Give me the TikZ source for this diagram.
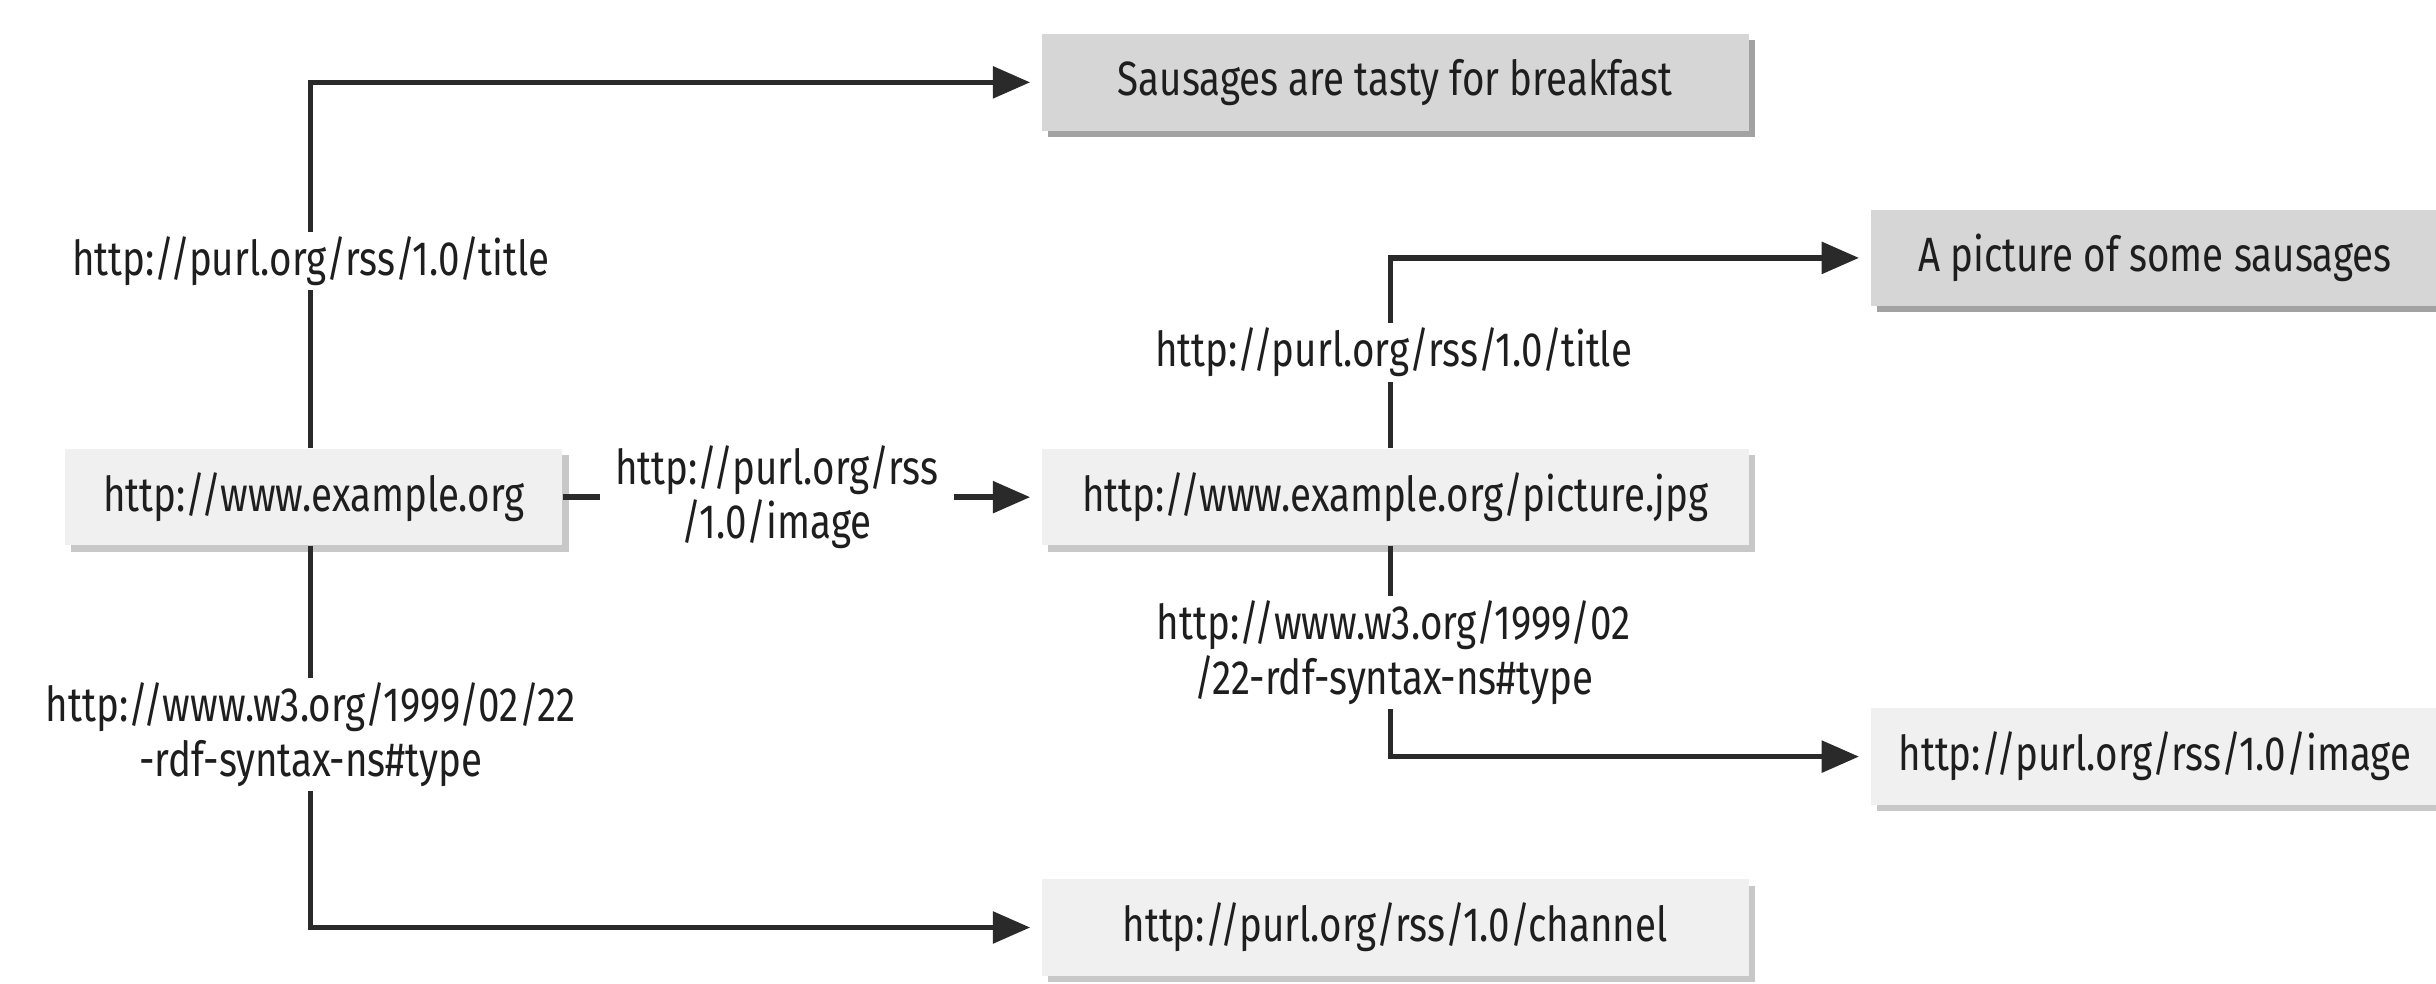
\documentclass[tikz,border=0pt]{standalone}
\usepackage{fontspec}
\setmainfont{Fira Sans}[FakeStretch=0.8]
\usetikzlibrary{arrows.meta,shadows}

\definecolor{litfill}{HTML}{D6D6D6}
\definecolor{litshade}{HTML}{A2A2A2}
\definecolor{resfill}{HTML}{F0F0F0}
\definecolor{resshade}{HTML}{C8C8C8}
\definecolor{ink}{HTML}{1E1E1E}
\definecolor{wire}{HTML}{2A2A2A}

\tikzset{
  box/.style={minimum height=31pt, inner sep=0pt, text=ink,
    font=\fontsize{15.5}{17.5}\selectfont},
  resource/.style={box, fill=resfill,
    drop shadow={shadow xshift=2pt, shadow yshift=-2pt, fill=resshade, opacity=1}},
  literal/.style={box, fill=litfill,
    drop shadow={shadow xshift=2pt, shadow yshift=-2pt, fill=litshade, opacity=1}},
  prop/.style={fill=white, inner sep=1.5pt, align=center, text=ink,
    font=\fontsize{15.5}{17.5}\selectfont},
  link/.style={draw=wire, line width=1.75pt,
    -{Triangle[length=12pt,width=10pt]}, shorten >=3.5pt}
}

\begin{document}
\begin{tikzpicture}[x=0.5pt,y=-0.5pt]
\useasboundingbox (0,0) rectangle (1568,633);

% subject and object nodes
\node[resource, minimum width=160pt] (site)  at (202,320) {http://www.example.org};
\node[resource, minimum width=227.5pt] (pic) at (898,320) {http://www.example.org/picture.jpg};
\node[literal, minimum width=227.5pt] (title1) at (898,53) {Sausages are tasty for breakfast};
\node[resource, minimum width=227.5pt] (chan) at (898,597) {http://purl.org/rss/1.0/channel};
\node[literal, minimum width=183pt] (title2) at (1387,166) {A picture of some sausages};
\node[resource, minimum width=183pt] (imgtype) at (1387,487) {http://purl.org/rss/1.0/image};

% property arcs
\draw[link] (site.north -| 200,0) |- (title1.west);
\draw[link] (site.south -| 200,0) |- (chan.west);
\draw[link] (site.east) -- (pic.west);
\draw[link] (pic.north -| 895,0) |- (title2.west);
\draw[link] (pic.south -| 895,0) |- (imgtype.west);

% property labels
\node[prop] (p1) at (200,168) {http://purl.org/rss/1.0/title};
\node[prop] (p2) at (200,473) {http://www.w3.org/1999/02/22\\-rdf-syntax-ns\#type};
\node[prop, inner xsep=5pt] (p3) at (500,320) {http://purl.org/rss\\/1.0/image};
\node[prop] (p4) at (897,227) {http://purl.org/rss/1.0/title};
\node[prop] (p5) at (897,420) {http://www.w3.org/1999/02\\/22-rdf-syntax-ns\#type};
\end{tikzpicture}
\end{document}
